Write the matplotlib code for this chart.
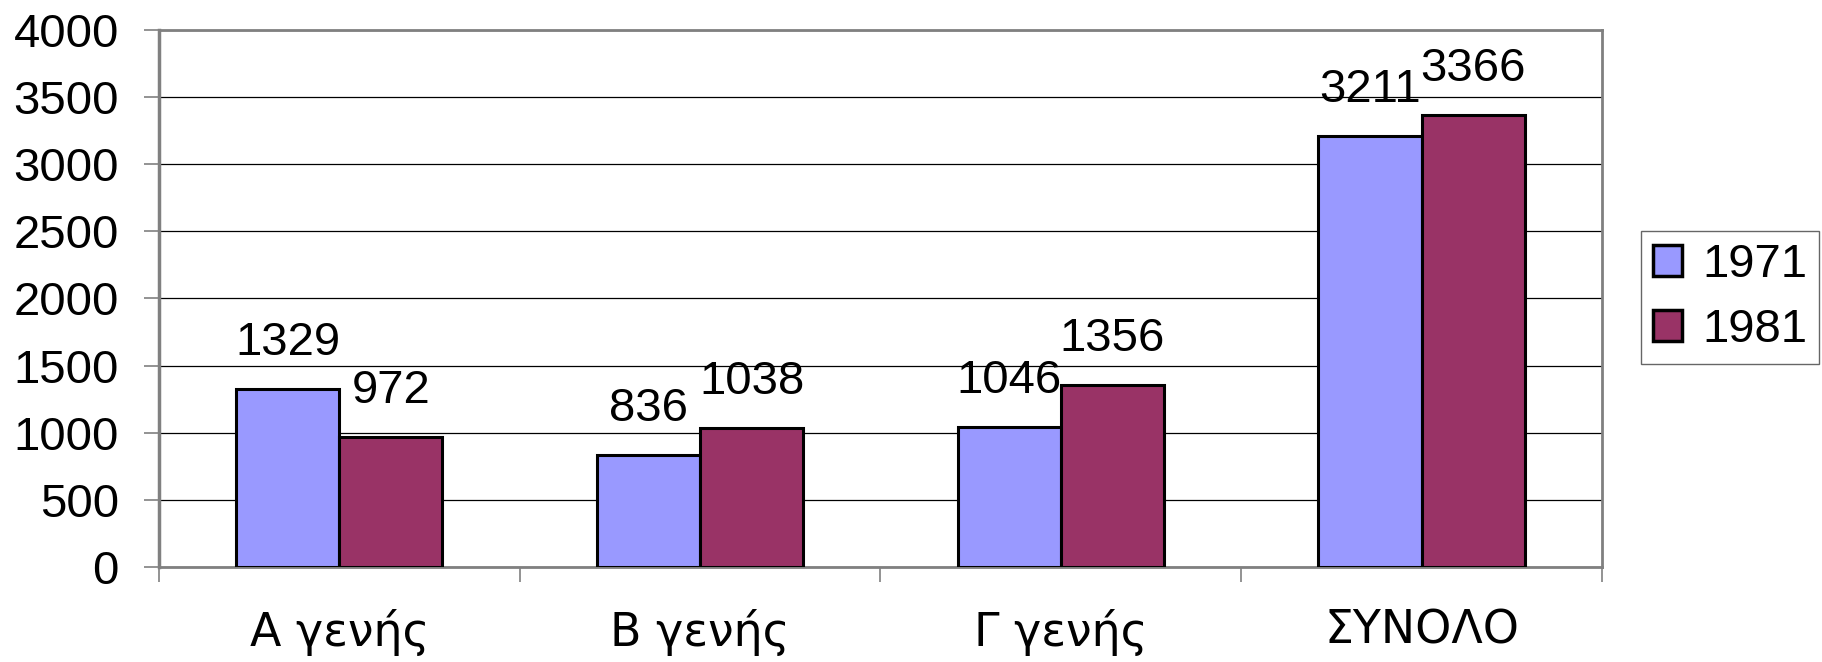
import matplotlib
matplotlib.use('Agg')
import matplotlib.pyplot as plt
import numpy as np

plt.rcParams['font.family'] = ['Liberation Sans', 'DejaVu Sans']

categories = ['Α γενής', 'Β γενής', 'Γ γενής', 'ΣΥΝΟΛΟ']
series_names = ['1971', '1981']
values_1971 = [1329, 836, 1046, 3211]
values_1981 = [972, 1038, 1356, 3366]
colors = ['#9999FF', '#993366']

fig = plt.figure(figsize=(18.22, 6.62), dpi=100)
ax = fig.add_axes([0.0873, 0.1435, 0.7919, 0.8112])

x = np.arange(len(categories))
w = 1 / 3.5  # excel gap width 150%

for i, (vals, name) in enumerate(zip([values_1971, values_1981], series_names)):
    b = ax.bar(x + (i - 0.5) * w, vals, w, color=colors[i], edgecolor='black',
               linewidth=2.2, label=name, zorder=3)
    for rect, v in zip(b, vals):
        ax.annotate(str(v), (rect.get_x() + rect.get_width() / 2, v),
                    xytext=(0, 17), textcoords='offset points',
                    ha='center', va='bottom', fontsize=34)

ax.set_xlim(-0.5, len(categories) - 0.5)
ax.set_ylim(0, 4000)
ax.set_yticks(np.arange(0, 4001, 500))
ax.yaxis.grid(True, color='black', linewidth=0.9, zorder=0)
ax.set_axisbelow(True)

ax.set_xticks(x)
ax.set_xticklabels(categories, fontsize=33, family=['DejaVu Sans'])
ax.set_xticks(np.arange(-0.5, len(categories)), minor=True)
ax.tick_params(axis='x', which='major', length=0, pad=30)
ax.tick_params(axis='x', which='minor', length=11, width=1.2, color='#808080')
ax.tick_params(axis='y', length=11, width=1.2, color='#808080', labelsize=34, pad=18)

for s in ['top', 'right', 'bottom']:
    ax.spines[s].set_color('#808080')
    ax.spines[s].set_linewidth(2)
ax.spines['left'].set_color('#808080')
ax.spines['left'].set_linewidth(2.5)

leg = fig.legend(loc='center left', bbox_to_anchor=(0.9007, 0.5506), fontsize=34,
                 frameon=True, fancybox=False, edgecolor='#404040', handlelength=0.62,
                 handleheight=0.62, handletextpad=0.43, borderpad=0.25,
                 labelspacing=0.45, borderaxespad=0)
leg.get_frame().set_linewidth(1)
for p in leg.get_patches():
    p.set_linewidth(2.5)

fig.savefig('out.png', dpi=100)
